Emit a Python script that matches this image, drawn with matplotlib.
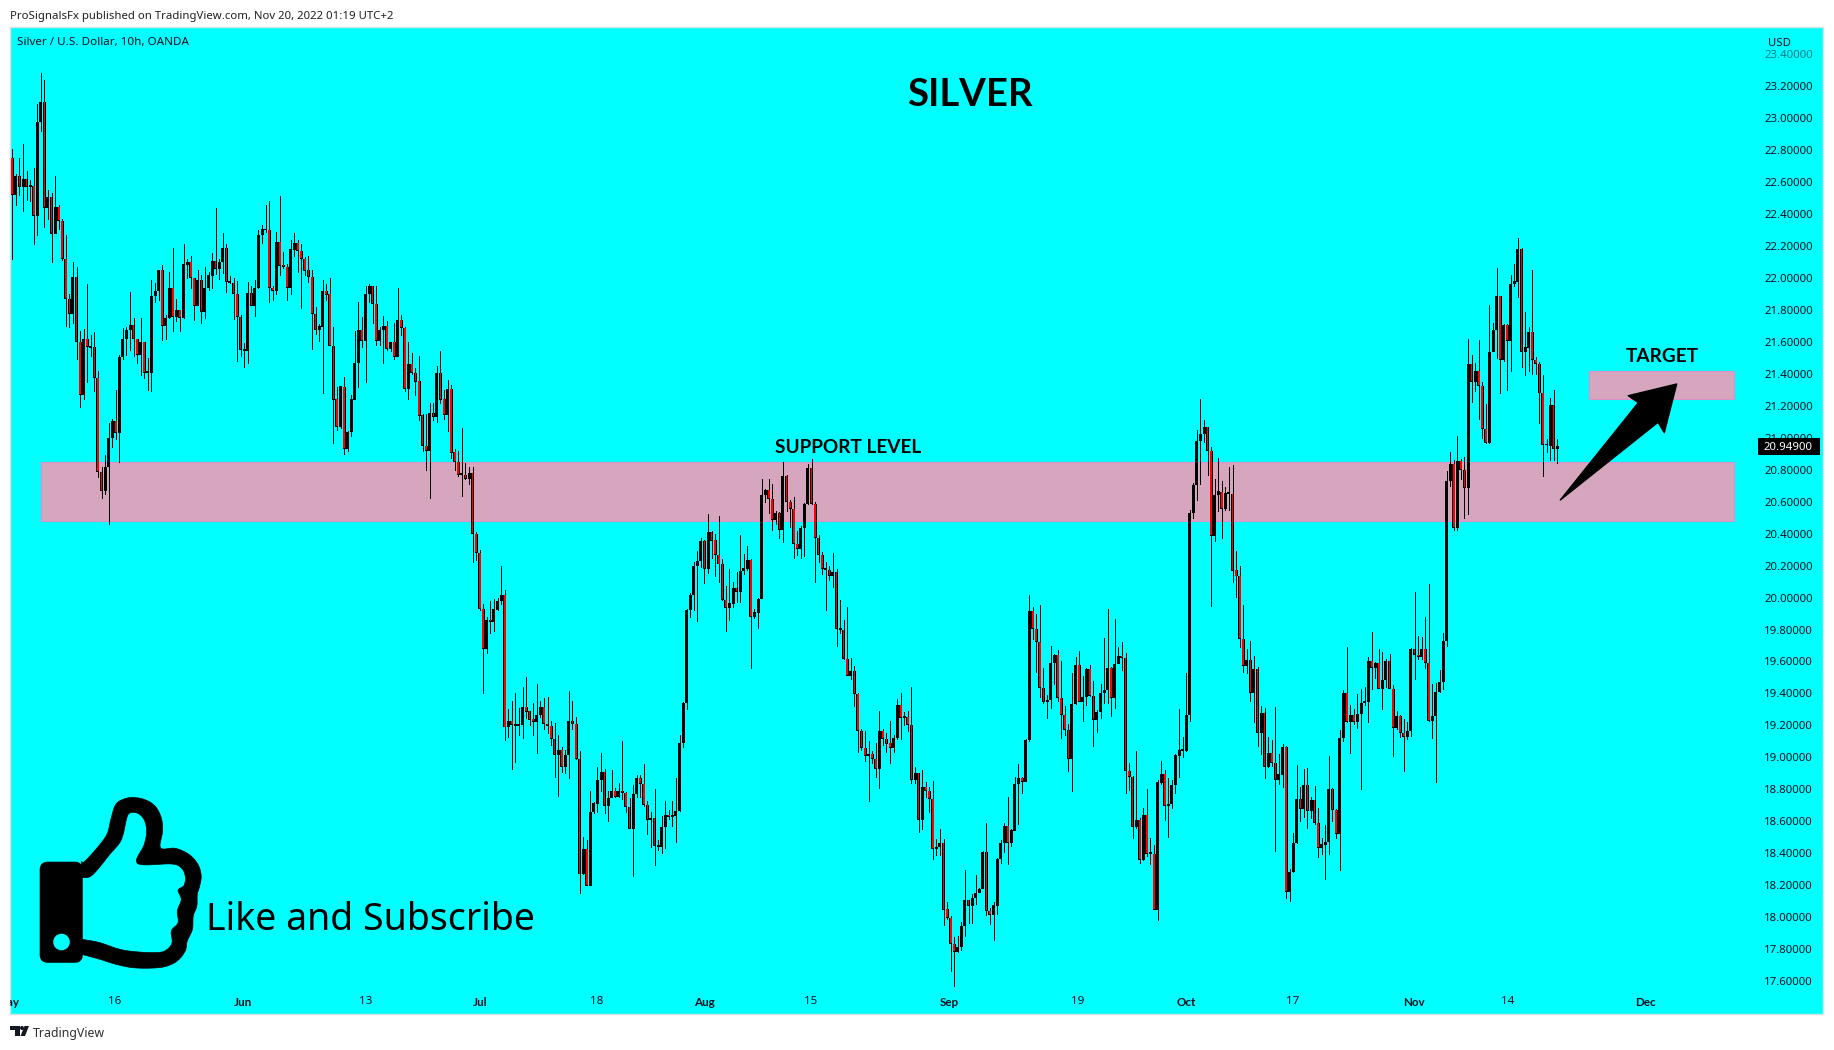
#!/usr/bin/env python3
"""Silver / USD 10h chart, with support and target zones."""
import numpy as np
import matplotlib
matplotlib.use("Agg")
import matplotlib.pyplot as plt
from matplotlib.patches import Polygon, Circle, FancyBboxPatch, Rectangle, PathPatch
from matplotlib.path import Path

#------- data -------#

opens = [
22.755,22.52,22.64,22.57,22.62,22.57,22.58,22.39,22.98,23.105,
22.44,22.51,22.28,22.45,22.36,22.12,21.87,21.78,22.01,21.60,
21.27,21.62,21.565,21.57,21.38,20.79,20.67,20.82,21.00,21.11,
21.03,21.51,21.62,21.68,21.71,21.62,21.52,21.60,21.41,21.41,
21.89,21.92,22.05,21.70,21.75,21.94,21.76,21.80,21.75,22.085,
22.105,22.00,21.83,21.99,21.79,21.94,22.015,22.11,22.06,22.10,
22.19,21.97,21.97,21.90,21.76,21.545,21.545,21.91,21.83,21.94,
22.27,22.30,22.30,21.94,21.92,22.23,22.085,22.07,21.94,22.18,
22.22,22.17,22.12,22.05,22.01,21.78,21.68,21.695,21.92,21.90,
21.58,21.245,21.07,21.32,20.93,21.04,21.24,21.47,21.68,21.61,
21.90,21.95,21.84,21.61,21.68,21.70,21.56,21.60,21.51,21.74,
21.69,21.31,21.465,21.41,21.36,21.145,20.95,20.92,21.16,21.135,
21.41,21.245,21.145,21.31,20.915,20.85,20.77,20.77,20.745,20.78,
20.40,20.28,19.93,19.68,19.865,19.85,19.925,19.98,20.02,19.19,
19.23,19.20,19.20,19.205,19.32,19.29,19.24,19.225,19.27,19.32,
19.21,19.20,19.12,19.02,19.05,18.94,19.02,19.23,19.21,18.99,
18.27,18.43,18.20,18.66,18.71,18.86,18.91,18.70,18.75,18.79,
18.755,18.79,18.78,18.69,18.555,18.775,18.875,18.835,18.705,18.61,
18.625,18.44,18.44,18.57,18.64,18.63,18.635,18.665,19.09,19.345,
19.925,20.02,20.20,20.23,20.36,20.18,20.415,20.365,20.27,20.21,
19.99,19.94,19.965,20.06,20.04,20.17,20.18,20.24,19.88,19.905,
19.995,20.645,20.675,20.62,20.49,20.53,20.425,20.765,20.60,20.56,
20.34,20.305,20.44,20.587,20.815,20.59,20.375,20.27,20.175,20.175,
20.14,20.165,19.80,19.80,19.62,19.515,19.544,19.40,19.17,19.06,
19.01,19.025,18.995,18.93,19.17,19.12,19.09,19.06,19.125,19.33,
19.25,19.256,19.206,18.86,18.905,18.61,18.82,18.79,18.74,18.43,
18.445,18.47,18.055,18.00,17.835,17.785,17.815,17.945,18.11,18.07,
18.12,18.155,18.18,18.41,18.04,18.017,18.075,18.37,18.47,18.575,
18.465,18.545,18.835,18.875,18.85,19.11,19.92,19.805,19.725,19.44,
19.35,19.36,19.595,19.645,19.375,19.27,19.175,18.995,19.335,19.58,
19.35,19.38,19.557,19.385,19.235,19.285,19.405,19.425,19.565,19.373,
19.59,19.64,19.625,18.915,18.88,18.565,18.61,18.36,18.64,18.40,
18.40,18.05,18.84,18.90,18.70,18.71,18.83,19.01,19.045,19.04,
19.27,20.53,20.706,20.98,21.025,21.07,20.92,20.39,20.646,20.663,
20.555,20.65,20.65,20.178,20.14,19.745,19.574,19.613,19.405,19.557,
19.154,19.282,18.942,19.031,18.969,18.86,18.894,19.069,18.159,18.285,
18.466,18.743,18.677,18.831,18.666,18.737,18.591,18.435,18.456,18.472,
18.806,18.675,18.522,19.125,19.407,19.223,19.271,19.223,19.273,19.342,
19.348,19.607,19.563,19.595,19.43,19.484,19.607,19.432,19.188,19.263,
19.157,19.13,19.167,19.682,19.645,19.63,19.682,19.595,19.23,19.261,
19.411,19.474,19.732,20.73,20.84,20.44,20.86,20.80,20.69,21.466,
21.35,21.42,21.33,21.06,20.97,21.54,21.68,21.89,21.49,21.71,
21.61,21.965,21.98,22.185,21.54,21.565,21.666,21.49,21.464,21.28,
20.955,20.95,21.21,20.93]

highs = [
22.81,22.65,22.75,22.84,22.67,22.61,22.69,23.09,23.28,23.24,
22.55,22.53,22.64,22.457,22.37,22.27,21.90,22.10,22.07,21.67,
21.68,21.96,21.64,21.66,21.42,20.82,20.89,21.09,21.12,21.30,
21.52,21.685,21.69,21.91,21.75,21.62,21.75,21.60,21.50,21.99,
21.97,22.05,22.08,21.77,22.04,22.19,21.87,21.80,22.21,22.12,
22.14,22.00,22.05,22.02,22.07,22.04,22.155,22.44,22.12,22.28,
22.21,22.01,22.00,21.98,21.77,21.59,21.975,21.95,21.99,22.30,
22.33,22.456,22.48,21.95,22.29,22.51,22.16,22.09,22.24,22.28,
22.24,22.21,22.13,22.14,22.05,21.82,21.715,21.99,21.96,22.00,
21.69,21.32,21.325,21.38,21.04,21.27,21.67,21.85,21.755,21.95,
21.96,21.95,21.95,21.69,21.76,21.73,21.60,21.72,21.94,21.77,
21.69,21.60,21.53,21.435,21.51,21.15,21.15,21.215,21.22,21.45,
21.54,21.30,21.36,21.33,20.93,20.92,21.06,20.84,20.82,20.82,
20.41,20.30,19.96,19.88,19.98,19.99,19.995,20.20,20.05,19.30,
19.35,19.40,19.31,19.44,19.50,19.29,19.34,19.46,19.35,19.37,
19.38,19.23,19.215,19.14,19.065,19.045,19.415,19.35,19.25,19.04,
18.50,18.48,18.79,18.72,18.94,19.025,18.93,18.79,18.92,18.81,
18.84,19.10,18.785,18.745,18.83,18.89,18.89,18.96,18.725,18.66,
18.80,18.48,18.63,18.73,18.67,18.73,18.87,19.14,19.345,19.93,
20.03,20.22,20.29,20.37,20.36,20.52,20.415,20.40,20.51,20.24,
20.07,20.18,20.10,20.16,20.39,20.27,20.32,20.24,19.926,19.995,
20.745,20.68,20.74,20.71,20.54,20.535,20.85,20.77,20.61,20.63,
20.416,20.447,20.59,20.835,20.87,20.60,20.39,20.285,20.22,20.20,
20.28,20.18,19.985,19.86,19.94,19.62,19.57,19.40,19.18,19.165,
19.10,19.04,19.09,19.29,19.18,19.15,19.23,19.14,19.365,19.405,
19.283,19.29,19.44,18.94,18.905,18.92,18.845,18.815,18.85,18.49,
18.55,18.49,18.095,18.01,17.875,17.88,17.97,18.295,18.11,18.145,
18.265,18.18,18.415,18.59,18.055,18.095,18.37,18.48,18.59,18.75,
18.55,18.875,18.958,18.875,19.115,20.015,19.94,19.895,19.955,19.56,
19.39,19.70,19.645,19.67,19.605,19.32,19.21,19.53,19.625,19.665,
19.51,19.557,19.58,19.475,19.295,19.46,19.75,19.93,19.565,19.865,
19.69,19.72,19.65,18.965,18.885,19.04,18.62,18.68,18.80,18.495,
18.45,18.86,18.98,18.92,18.87,18.86,19.02,19.30,19.13,19.53,
20.545,20.72,21.05,21.24,21.11,21.07,20.94,20.743,20.875,20.73,
20.69,20.816,20.83,20.29,20.195,19.953,19.68,19.728,19.632,19.563,
19.32,19.307,19.13,19.106,19.315,19.019,19.084,19.07,18.30,18.525,
18.952,18.812,18.927,18.931,18.75,18.82,18.683,18.493,18.575,19.008,
18.806,18.675,19.169,19.419,19.688,19.325,19.30,19.394,19.428,19.44,
19.626,19.784,19.595,19.678,19.657,19.615,19.647,19.45,19.29,19.263,
19.24,19.22,19.682,20.035,19.76,19.751,19.878,20.085,19.457,19.465,
19.545,19.776,20.79,20.91,20.86,21.01,20.87,20.88,21.62,21.52,
21.47,21.61,21.35,21.21,21.83,21.72,22.06,21.89,21.71,21.71,
22.02,22.085,22.25,22.185,21.79,21.69,22.05,21.505,21.476,21.39,
20.994,21.25,21.30,20.99]

lows = [
22.12,22.455,22.52,22.42,22.49,22.48,22.21,22.27,22.92,22.32,
22.37,22.10,22.28,22.305,22.11,21.70,21.69,21.72,21.49,21.19,
21.24,21.35,21.51,21.29,20.755,20.62,20.65,20.46,20.94,20.99,
20.85,21.49,21.52,21.55,21.51,21.47,21.39,21.375,21.30,21.29,
21.85,21.86,21.61,21.62,21.75,21.67,21.73,21.67,21.75,22.00,
21.94,21.74,21.83,21.72,21.75,21.925,21.94,22.025,21.995,22.03,
21.91,21.97,21.745,21.48,21.51,21.44,21.47,21.83,21.76,21.94,
22.22,22.29,21.85,21.86,21.90,22.02,22.06,21.86,21.90,22.14,
22.04,21.81,22.02,21.975,21.555,21.65,21.605,21.28,21.86,21.58,
20.97,21.05,21.06,20.90,20.92,21.01,21.24,21.32,21.57,21.35,
21.85,21.72,21.58,21.58,21.47,21.55,21.54,21.49,21.51,21.64,
21.29,21.24,21.40,21.27,21.11,20.92,20.80,20.62,21.11,21.10,
21.215,21.12,21.04,20.875,20.80,20.76,20.635,20.745,20.71,20.22,
20.235,19.92,19.40,19.65,19.78,19.79,19.92,19.96,19.11,19.125,
18.93,18.97,19.14,19.12,19.245,19.20,19.14,19.03,19.25,19.18,
19.15,19.08,18.88,18.76,18.91,18.90,18.87,19.18,18.99,18.15,
18.27,18.20,18.20,18.65,18.66,18.79,18.65,18.60,18.75,18.75,
18.75,18.74,18.66,18.555,18.26,18.755,18.75,18.695,18.52,18.44,
18.325,18.42,18.40,18.435,18.615,18.57,18.47,18.665,19.065,19.30,
19.88,19.92,19.855,20.19,20.09,20.155,20.25,20.135,20.10,19.985,
19.79,19.86,19.94,19.97,19.97,20.15,20.17,19.56,19.87,19.81,
19.995,20.60,20.53,20.42,20.46,20.37,20.35,20.54,20.44,20.25,
20.266,20.25,20.26,20.587,20.587,20.10,20.225,20.15,19.92,20.11,
20.065,19.70,19.78,19.617,19.515,19.49,19.32,19.035,19.045,18.98,
18.73,18.965,18.88,18.81,19.08,19.035,18.965,19.035,19.115,19.115,
19.20,19.165,18.84,18.84,18.53,18.55,18.75,18.66,18.365,18.39,
18.39,17.95,17.99,17.665,17.57,17.785,17.795,17.885,17.965,17.965,
18.085,18.155,18.18,18.015,17.96,17.86,18.02,18.34,18.41,18.33,
18.445,18.545,18.585,18.775,18.85,19.10,19.74,19.535,19.38,19.34,
19.245,19.31,19.46,19.35,19.12,19.14,18.915,18.79,19.335,19.35,
19.23,19.327,19.385,19.07,19.16,19.245,19.34,19.34,19.26,19.31,
19.59,19.545,18.78,18.795,18.495,18.56,18.34,18.36,18.38,18.33,
18.05,17.98,18.835,18.61,18.50,18.685,18.78,18.88,19.00,19.04,
19.23,20.50,20.61,20.71,20.975,20.77,19.95,20.355,20.54,20.37,
20.545,20.55,20.096,20.006,19.69,19.536,19.528,19.355,19.22,19.071,
19.023,18.87,18.94,18.946,18.414,18.833,18.814,18.12,18.10,18.285,
18.466,18.60,18.627,18.558,18.62,18.585,18.379,18.397,18.239,18.397,
18.602,18.497,18.295,19.104,19.223,19.029,19.21,19.186,18.804,19.33,
19.223,19.428,19.497,19.432,19.303,19.44,19.432,19.008,19.18,19.125,
18.917,19.117,19.136,19.49,19.617,19.617,19.561,19.23,19.123,18.848,
19.411,19.428,19.697,20.70,20.42,20.42,20.74,20.50,20.52,21.226,
21.29,21.12,21.00,20.965,20.97,21.54,21.50,21.28,21.48,21.30,
21.42,21.95,21.88,21.44,21.39,21.42,21.40,21.40,21.09,20.76,
20.91,20.86,20.86,20.84]

closes = [
22.52,22.64,22.57,22.62,22.57,22.58,22.39,22.98,23.105,22.44,
22.51,22.28,22.45,22.36,22.12,21.87,21.78,22.01,21.60,21.27,
21.62,21.57,21.575,21.38,20.79,20.67,20.82,21.00,21.11,21.03,
21.51,21.62,21.68,21.71,21.62,21.52,21.60,21.41,21.42,21.89,
21.92,22.05,21.70,21.75,21.94,21.76,21.80,21.75,22.09,22.105,
22.00,21.83,21.99,21.79,21.94,22.02,22.11,22.06,22.10,22.19,
21.98,21.98,21.90,21.76,21.55,21.55,21.91,21.83,21.94,22.27,
22.31,22.31,21.94,21.92,22.23,22.08,22.07,21.94,22.185,22.22,
22.17,22.12,22.045,22.01,21.78,21.68,21.70,21.92,21.895,21.58,
21.24,21.07,21.325,20.93,21.04,21.245,21.47,21.68,21.61,21.90,
21.95,21.84,21.61,21.68,21.70,21.56,21.60,21.51,21.74,21.69,
21.31,21.465,21.41,21.355,21.14,20.95,20.92,21.16,21.135,21.41,
21.24,21.145,21.31,20.91,20.85,20.77,20.775,20.745,20.78,20.40,
20.28,19.93,19.68,19.864,19.85,19.93,19.98,20.02,19.19,19.23,
19.205,19.21,19.21,19.32,19.285,19.235,19.225,19.27,19.32,19.21,
19.20,19.12,19.02,19.05,18.94,19.02,19.23,19.21,18.99,18.27,
18.43,18.20,18.66,18.715,18.86,18.91,18.70,18.75,18.79,18.755,
18.79,18.78,18.69,18.555,18.775,18.875,18.835,18.705,18.61,18.625,
18.45,18.45,18.57,18.64,18.63,18.638,18.67,19.095,19.345,19.925,
20.02,20.20,20.23,20.36,20.18,20.415,20.36,20.27,20.21,19.99,
19.94,19.97,20.06,20.04,20.17,20.185,20.24,19.88,19.91,19.995,
20.645,20.675,20.62,20.49,20.53,20.425,20.765,20.60,20.56,20.34,
20.305,20.44,20.59,20.815,20.587,20.375,20.27,20.18,20.18,20.14,
20.165,19.805,19.807,19.617,19.515,19.544,19.40,19.17,19.06,19.01,
19.025,18.995,18.93,19.17,19.12,19.085,19.06,19.125,19.33,19.25,
19.256,19.206,18.86,18.905,18.61,18.82,18.79,18.74,18.43,18.445,
18.47,18.05,17.995,17.835,17.785,17.815,17.95,18.11,18.07,18.125,
18.155,18.18,18.41,18.04,18.017,18.08,18.37,18.47,18.575,18.47,
18.55,18.835,18.875,18.85,19.11,19.92,19.805,19.725,19.44,19.35,
19.36,19.595,19.645,19.375,19.27,19.175,18.995,19.338,19.58,19.35,
19.38,19.557,19.385,19.235,19.285,19.405,19.425,19.565,19.373,19.59,
19.64,19.625,18.915,18.88,18.565,18.61,18.36,18.64,18.40,18.405,
18.05,18.85,18.90,18.70,18.713,18.83,19.015,19.05,19.05,19.27,
20.53,20.71,20.984,21.025,21.07,20.92,20.39,20.646,20.67,20.555,
20.66,20.66,20.17,20.135,19.745,19.574,19.613,19.405,19.557,19.154,
19.282,18.942,19.031,18.969,18.86,18.896,19.069,18.159,18.287,18.468,
18.743,18.68,18.831,18.666,18.737,18.591,18.435,18.458,18.476,18.806,
18.673,18.522,19.125,19.407,19.223,19.271,19.223,19.275,19.344,19.35,
19.607,19.563,19.595,19.432,19.488,19.607,19.432,19.188,19.263,19.157,
19.13,19.169,19.682,19.645,19.63,19.682,19.595,19.23,19.263,19.413,
19.476,19.732,20.735,20.84,20.44,20.86,20.80,20.69,21.466,21.35,
21.42,21.33,21.06,20.97,21.54,21.68,21.89,21.49,21.71,21.61,
21.966,21.987,22.185,21.54,21.57,21.666,21.49,21.464,21.28,20.957,
20.96,21.21,20.93,20.949]

price_ticks = [17.6, 17.8, 18.0, 18.2, 18.4, 18.6, 18.8, 19.0, 19.2, 19.4, 19.6, 19.8, 20.0, 20.2,
               20.4, 20.6, 20.8, 21.0, 21.2, 21.4, 21.6, 21.8, 22.0, 22.2, 22.4, 22.6, 22.8, 23.0, 23.2, 23.4]
date_labels = ["May", "16", "Jun", "13", "Jul", "18", "Aug", "15", "Sep", "19", "Oct", "17", "Nov", "14", "Dec"]
date_bars = [-1.2, 28.7, 64.7, 99, 131, 163.7, 193.9, 223.7, 262.7, 298.7, 329, 358.7, 392.9, 419, 457.8]
last_price = 20.949
support_zone = (20.481, 20.848)
target_zone = (21.243, 21.416)

#------- figure, pixel positions are counted from the top left -------#

W, H = 1834, 1050
CYAN = "#00ffff"
PINK = "#d5a6bd"
PINK_EDGE = "#dc8fcb"
FONT = "Noto Sans"
BOLD = "Lato"

fig = plt.figure(figsize=(W / 100, H / 100), dpi=100, facecolor="white")
ax = fig.add_axes([10 / W, 1 - 1014 / H, (1823 - 10) / W, (1014 - 27) / H], facecolor=CYAN)

# one bar is 3.568 px wide and 23.2 sits at y=86.2, 159.8 px to the dollar
ax.set_xlim((10 - 12.3) / 3.568, (1823 - 12.3) / 3.568)
ax.set_ylim(23.2 - (1014 - 86.2) / 159.8, 23.2 - (27 - 86.2) / 159.8)
ax.set_xticks([])
ax.set_yticks([])
for s in ax.spines.values():
    s.set_color("#d8e4e4")
    s.set_linewidth(1)

#------- zones -------#

ax.add_patch(Rectangle((8.04, support_zone[0]), 482.6 - 8.04, support_zone[1] - support_zone[0],
                       facecolor=PINK, edgecolor=PINK_EDGE, lw=0.8, zorder=1))
ax.add_patch(Rectangle((441.9, target_zone[0]), 482.6 - 441.9, target_zone[1] - target_zone[0],
                       facecolor=PINK, edgecolor=PINK_EDGE, lw=0.8, zorder=1))

#------- candles -------#

o = np.array(opens)
h = np.array(highs)
l = np.array(lows)
c = np.array(closes)
x = np.arange(len(o))
bot = np.minimum(o, c)
top = np.maximum(o, c)
down = c < o

ax.vlines(x, l, h, color="black", lw=0.72, zorder=2, antialiased=False)
# black body first, the falling bars get a narrower red core on top of it
ax.bar(x, np.maximum(top - bot, 0.012), bottom=bot - 0.003, width=0.84, color="black", linewidth=0, zorder=3, antialiased=False)
ax.bar(x[down], (top - bot)[down] - 0.006, bottom=bot[down] + 0.003, width=0.46, color="#ff0000", linewidth=0, zorder=4, antialiased=False)

#------- price and date scales -------#

for p in price_ticks:
    alpha = 0.55 if p == 23.4 else 1.0
    ax.annotate(f"{p:.5f}", xy=(1, p), xycoords=("axes fraction", "data"), xytext=(-10, -1.5),
                textcoords="offset pixels", ha="right", va="center", fontsize=8.2,
                family=FONT, color="#101020", alpha=alpha, zorder=5)

for lab, b in zip(date_labels, date_bars):
    month = not lab.isdigit()
    ax.text(b, 23.2 - (1002 - 86.2) / 159.8, lab, ha="center", va="center", fontsize=8.4,
            family=BOLD if month else FONT, fontweight="bold" if month else "normal",
            color="#101020", clip_on=True, zorder=5)

#------- overlay in figure pixels -------#

ov = fig.add_axes([0, 0, 1, 1], facecolor="none")
ov.set_xlim(0, W)
ov.set_ylim(H, 0)
ov.axis("off")

# last price tag
ov.add_patch(Rectangle((1758, 438), 62, 17, facecolor="black", edgecolor="none", zorder=5))
ov.text(1813, 447, f"{last_price:.5f}", ha="right", va="center", fontsize=8.2, family=FONT, color="white", zorder=6)

ov.text(1768, 43, "USD", ha="left", va="center", fontsize=8.2, family=FONT, color="#101020")
ov.text(17, 43, "Silver / U.S. Dollar, 10h, OANDA", ha="left", va="center", fontsize=8.4, family=FONT, color="#101020")
ov.text(10, 16, "ProSignalsFx published on TradingView.com, Nov 20, 2022 01:19 UTC+2", ha="left", va="center",
        fontsize=8.2, family=FONT, color="#202020")
ov.text(33, 1034, "TradingView", ha="left", va="center", fontsize=8.9, family=FONT, color="#303030")

ov.text(970, 94.5, "SILVER", ha="center", va="center", fontsize=27.5, family=BOLD, fontweight="bold", color="black")
ov.text(848.5, 447.5, "SUPPORT LEVEL", ha="center", va="center", fontsize=13.7, family=BOLD, fontweight="bold", color="black")
ov.text(1662, 356.5, "TARGET", ha="center", va="center", fontsize=13.7, family=BOLD, fontweight="bold", color="black")
ov.text(206, 930, "Like and Subscribe", ha="left", va="baseline", fontsize=27, family=FONT, color="black")

# arrow
ov.add_patch(Polygon([(1560.3, 500), (1638.3, 402.7), (1628.3, 395.7), (1676.7, 384),
                      (1664.3, 432.7), (1658, 422.3)], closed=True, facecolor="black",
                     edgecolor="black", lw=1, joinstyle="round", zorder=6))

# TradingView logo
ov.add_patch(Polygon([(10, 1026), (19.5, 1026), (19.5, 1036), (15, 1036), (15, 1030), (10, 1030)], closed=True,
                     facecolor="#131722", edgecolor="none"))
ov.add_patch(Circle((22, 1028), 2, facecolor="#131722", edgecolor="none"))
ov.add_patch(Polygon([(24.5, 1026), (29, 1026), (25, 1036), (20.5, 1036)], closed=True,
                     facecolor="#131722", edgecolor="none"))

#------- thumb icon, outlined from the enlarged crop -------#

def tz(pts):
    return [(a / 2.51, 760 + b * 0.332) for a, b in pts]

def smooth(pts, n=6):
    # Catmull-Rom through the outline points, the ends stay where they are
    p = np.array(pts, dtype=float)
    p = np.vstack([p[0], p, p[-1]])
    out = []
    for i in range(1, len(p) - 2):
        for t in np.linspace(0, 1, n, endpoint=False):
            out.append(0.5 * (2 * p[i] + (p[i + 1] - p[i - 1]) * t
                              + (2 * p[i - 1] - 5 * p[i] + 4 * p[i + 1] - p[i + 2]) * t ** 2
                              + (3 * p[i] - p[i - 1] - 3 * p[i + 1] + p[i + 2]) * t ** 3))
    out.append(p[-2])
    return [tuple(v) for v in out]

hand_out = smooth(tz([(205, 306), (212, 306), (240, 270), (268, 225), (278, 180), (290, 135), (310, 118), (335, 113),
                      (365, 120), (390, 140), (405, 175), (408, 215), (403, 265), (440, 266), (475, 285), (497, 315),
                      (505, 350), (500, 385), (495, 405), (494, 440), (485, 470), (483, 510), (470, 545), (465, 575),
                      (445, 605), (415, 622), (375, 627), (330, 625), (290, 615), (250, 600), (210, 587), (205, 587)]))
hand_in = smooth(tz([(205, 354), (225, 352), (245, 330), (275, 285), (300, 250), (310, 220), (317, 180), (325, 160),
                     (345, 160), (362, 180), (368, 215), (362, 255), (345, 312), (430, 313), (455, 325), (465, 350),
                     (462, 378), (447, 392), (455, 420), (445, 455), (447, 490), (430, 515), (432, 550), (418, 572),
                     (395, 580), (345, 578), (300, 570), (250, 550), (205, 540)]))
verts = hand_out + [hand_out[0]] + hand_in[::-1] + [hand_in[-1]]
codes = [Path.MOVETO] + [Path.LINETO] * (len(hand_out) - 1) + [Path.CLOSEPOLY] + \
        [Path.MOVETO] + [Path.LINETO] * (len(hand_in) - 1) + [Path.CLOSEPOLY]
ov.add_patch(PathPatch(Path(verts, codes), facecolor="black", edgecolor="black", lw=0.5, joinstyle="round", zorder=6))

ov.add_patch(FancyBboxPatch((42.5, 864.5), 37.5, 95.5, boxstyle="round,pad=0,rounding_size=5", facecolor="black",
                            edgecolor="black", lw=4, joinstyle="round", zorder=6))
ov.add_patch(Circle((61.5, 942), 8.3, facecolor=CYAN, edgecolor="none", zorder=7))

fig.savefig("out.png", dpi=100, facecolor="white")
